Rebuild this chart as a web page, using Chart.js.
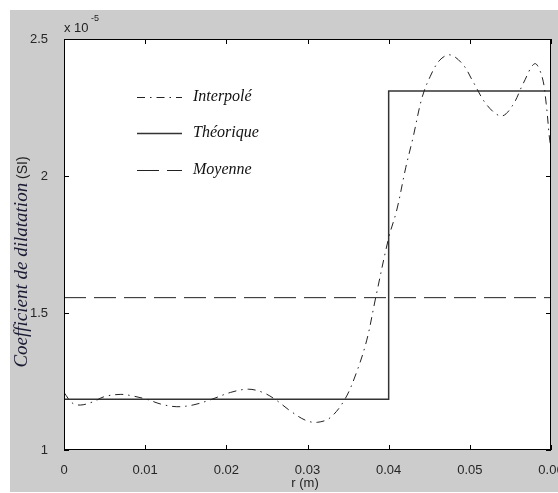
<!DOCTYPE html>
<html>
<head>
<meta charset="utf-8">
<script src="https://cdn.jsdelivr.net/npm/chart.js@4/dist/chart.umd.min.js"></script>
<style>
  html, body { margin: 0; padding: 0; background: #fff; }
  #wrap { width: 558px; height: 493px; }
</style>
</head>
<body>
<div id="wrap"><canvas id="graph"></canvas></div>
<script>
// ---- data (r in m, values in 1e-5 SI) ----
var rInterp = [0, 0.001, 0.002, 0.0035, 0.005, 0.007, 0.0085, 0.0102, 0.012, 0.0139,
  0.016, 0.0182, 0.0205, 0.0227, 0.0245, 0.026, 0.028, 0.0298, 0.0312, 0.0328,
  0.0346, 0.036, 0.0373, 0.0384, 0.040, 0.041, 0.0421, 0.043, 0.0441, 0.0451,
  0.0463, 0.0476, 0.0492, 0.0504, 0.0521, 0.0539, 0.0553, 0.0566, 0.058, 0.0589,
  0.0594, 0.0598, 0.06];
var valInterp = [1.21, 1.172, 1.164, 1.175, 1.195, 1.203, 1.197, 1.185, 1.167, 1.158,
  1.165, 1.185, 1.21, 1.222, 1.21, 1.185, 1.14, 1.108, 1.101, 1.118,
  1.185, 1.28, 1.401, 1.556, 1.774, 1.876, 2.03, 2.14, 2.285, 2.362,
  2.423, 2.442, 2.405, 2.344, 2.259, 2.219, 2.259, 2.339, 2.41, 2.362,
  2.266, 2.142, 2.1];
var rTheo = [0, 0.04, 0.04, 0.06];
var valTheo = [1.185, 1.185, 2.31, 2.31];
var rMoy = [0, 0.06];
var valMoy = [1.556, 1.556];
var legendLabels = ['Interpolé', 'Théorique', 'Moyenne'];
var xTicks = [0, 0.01, 0.02, 0.03, 0.04, 0.05, 0.06];
var yTicks = [1, 1.5, 2, 2.5];

function toPoints(xs, ys) {
  var pts = [];
  for (var i = 0; i < xs.length; i++) pts.push({x: xs[i], y: ys[i]});
  return pts;
}

// gray figure background + white axes box
var bgPlugin = {
  id: 'bg',
  beforeDraw: function(chart) {
    var c = chart.ctx, a = chart.chartArea;
    c.save();
    c.fillStyle = '#fff';
    c.fillRect(0, 0, chart.width, chart.height);
    c.fillStyle = '#cccccc';
    c.fillRect(10, 10, chart.width - 10, 482);
    c.fillStyle = '#fff';
    c.fillRect(a.left, a.top, a.right - a.left, a.bottom - a.top);
    c.restore();
  },
  afterDraw: function(chart) {
    var c = chart.ctx, a = chart.chartArea;
    var xs = chart.scales.x, ys = chart.scales.y;
    c.save();
    // box + inward ticks
    c.strokeStyle = '#000';
    c.lineWidth = 1;
    c.strokeRect(a.left + 0.5, a.top + 0.5, a.right - a.left - 1, a.bottom - a.top - 1);
    c.beginPath();
    xTicks.forEach(function(v) {
      var px = Math.round(xs.getPixelForValue(v)) + 0.5;
      c.moveTo(px, a.bottom); c.lineTo(px, a.bottom - 5);
      c.moveTo(px, a.top); c.lineTo(px, a.top + 5);
    });
    yTicks.forEach(function(v) {
      var py = Math.round(ys.getPixelForValue(v)) + 0.5;
      c.moveTo(a.left, py); c.lineTo(a.left + 5, py);
      c.moveTo(a.right, py); c.lineTo(a.right - 5, py);
    });
    c.stroke();

    // legend
    var ds = chart.data.datasets;
    var rowsY = [97, 133, 170];
    for (var i = 0; i < 3; i++) {
      c.strokeStyle = ds[i].borderColor;
      c.lineWidth = ds[i].borderWidth;
      c.setLineDash(ds[i].borderDash || []);
      c.beginPath();
      c.moveTo(137, rowsY[i] + 0.5);
      c.lineTo(182, rowsY[i] + 0.5);
      c.stroke();
      c.setLineDash([]);
      c.fillStyle = '#111';
      c.font = 'italic 16px "Liberation Serif"';
      c.textBaseline = 'middle';
      c.fillText(legendLabels[i], 193, rowsY[i]);
    }

    // exponent
    c.fillStyle = '#222';
    c.font = '13px "Liberation Sans"';
    c.textBaseline = 'alphabetic';
    c.fillText('x 10', 64, 32);
    c.font = '9px "Liberation Sans"';
    c.fillText('-5', 91, 21);

    // x title
    c.font = '13px "Liberation Sans"';
    c.textAlign = 'center';
    c.fillText('r (m)', 305, 487);

    // y title
    c.translate(27, 262);
    c.rotate(-Math.PI / 2);
    c.textAlign = 'left';
    c.font = 'italic 19px "Liberation Serif"';
    var t1 = 'Coefficient de dilatation';
    var w1 = c.measureText(t1).width;
    c.font = '14px "Liberation Sans"';
    var t2 = ' (SI)';
    var w2 = c.measureText(t2).width;
    var x0 = -(w1 + w2) / 2;
    c.font = 'italic 19px "Liberation Serif"';
    c.fillStyle = '#1a1a33';
    c.fillText(t1, x0, 0);
    c.font = '14px "Liberation Sans"';
    c.fillStyle = '#222';
    c.fillText(t2, x0 + w1, 0);
    c.restore();
  }
};

var ctx = document.getElementById('graph').getContext('2d');
var myChart = new Chart(ctx, {
  type: 'scatter',
  data: {
    datasets: [{
      label: 'Interpolé',
      data: toPoints(rInterp, valInterp),
      showLine: true,
      tension: 0.35,
      borderColor: '#222',
      borderWidth: 1,
      borderDash: [8, 5, 1.5, 5],
      pointRadius: 0
    }, {
      label: 'Théorique',
      data: toPoints(rTheo, valTheo),
      showLine: true,
      tension: 0,
      borderColor: '#333',
      borderWidth: 1.5,
      pointRadius: 0
    }, {
      label: 'Moyenne',
      data: toPoints(rMoy, valMoy),
      showLine: true,
      borderColor: '#222',
      borderWidth: 1,
      borderDash: [22, 8],
      pointRadius: 0
    }]
  },
  options: {
    responsive: true,
    maintainAspectRatio: false,
    animation: false,
    layout: { padding: { left: 0, top: 39, right: 7, bottom: 0 } },
    plugins: { legend: { display: false }, tooltip: { enabled: false } },
    scales: {
      x: {
        type: 'linear',
        min: 0, max: 0.06,
        grid: { display: false },
        border: { display: false },
        afterBuildTicks: function(s) { s.ticks = xTicks.map(function(v) { return {value: v}; }); },
        afterFit: function(s) { s.height = 43; s.paddingLeft = 0; s.paddingRight = 0; },
        ticks: {
          color: '#262626',
          font: { family: 'Liberation Sans', size: 13 },
          padding: 5,
          maxRotation: 0,
          callback: function(v) { return v === 0 ? '0' : v.toFixed(2); }
        }
      },
      y: {
        min: 1, max: 2.5,
        grid: { display: false },
        border: { display: false },
        afterBuildTicks: function(s) { s.ticks = yTicks.map(function(v) { return {value: v}; }); },
        afterFit: function(s) { s.width = 64; s.paddingTop = 0; s.paddingBottom = 0; },
        ticks: {
          color: '#262626',
          font: { family: 'Liberation Sans', size: 13 },
          padding: 8,
          callback: function(v) { return String(v); }
        }
      }
    }
  },
  plugins: [bgPlugin]
});
</script>
</body>
</html>
